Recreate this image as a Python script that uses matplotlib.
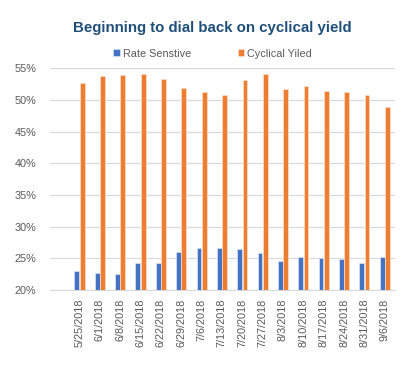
import matplotlib
matplotlib.use('Agg')
import matplotlib.pyplot as plt
import numpy as np

dates = ['5/25/2018', '6/1/2018', '6/8/2018', '6/15/2018', '6/22/2018', '6/29/2018',
         '7/6/2018', '7/13/2018', '7/20/2018', '7/27/2018', '8/3/2018', '8/10/2018',
         '8/17/2018', '8/24/2018', '8/31/2018', '9/6/2018']
rate_sensitive = [23.0, 22.7, 22.6, 24.2, 24.2, 26.0, 26.6, 26.6, 26.5, 25.8,
                  24.6, 25.2, 25.0, 24.9, 24.3, 25.2]
cyclical_yield = [52.7, 53.75, 53.9, 54.0, 53.3, 51.8, 51.2, 50.8, 53.1, 54.1,
                  51.7, 52.1, 51.4, 51.2, 50.8, 48.9]
yticks = [20, 25, 30, 35, 40, 45, 50, 55]

plt.rcParams['font.family'] = ['Liberation Sans', 'DejaVu Sans']

fig = plt.figure(figsize=(4.17, 3.7), dpi=100)
ax = fig.add_axes([0.12, 0.216, 0.827, 0.6])

x = np.arange(len(dates))
w = 0.24
ax.bar(x - w / 2 - 0.01, rate_sensitive, w, color='#4472C4', edgecolor='#DCE4F2',
       linewidth=0.5, label='Rate Senstive', zorder=3)
ax.bar(x + w / 2 + 0.01, cyclical_yield, w, color='#ED7D31', edgecolor='#FBE0CC',
       linewidth=0.5, label='Cyclical Yiled', zorder=3)

ax.set_ylim(20, 55)
ax.set_xlim(-1.45, 15.5)
ax.set_yticks(yticks)
ax.set_yticklabels([f'{v}%' for v in yticks])
ax.set_xticks(x)
ax.set_xticklabels(dates, rotation=90)
ax.tick_params(axis='both', length=0, colors='#595959', labelsize=7.8)
ax.tick_params(axis='y', pad=10)
ax.tick_params(axis='x', pad=6)
ax.grid(axis='y', color='#D9D9D9', linewidth=0.8, zorder=0)
for s in ['top', 'right', 'left']:
    ax.spines[s].set_visible(False)
ax.spines['bottom'].set_color('#D9D9D9')
ax.spines['bottom'].set_linewidth(0.8)

fig.text(0.508, 0.925, 'Beginning to dial back on cyclical yield', ha='center', va='center',
         fontsize=10.8, fontweight='bold', color='#1F4E79')
fig.legend(loc='center', bbox_to_anchor=(0.51, 0.855), ncol=2, frameon=False,
           fontsize=7.8, labelcolor='#595959', handlelength=0.6, handleheight=0.6,
           handletextpad=0.3, columnspacing=4.3)

fig.savefig('out.png', dpi=100)
